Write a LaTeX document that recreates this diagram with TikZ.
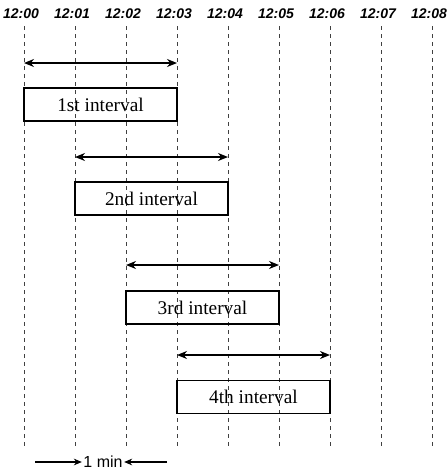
\documentclass[tikz,border=0pt]{standalone}
\usepackage{fontspec}
\setmainfont{Liberation Serif}
\setsansfont{Liberation Sans}
\usetikzlibrary{arrows.meta}
\tikzset{
    x={(0.75pt,0)},
    y={(0,-0.75pt)},
    tick/.style={font=\sffamily\bfseries\itshape\fontsize{10.5}{12}\selectfont,inner sep=0pt},
    grid/.style={dash pattern=on 3pt off 3pt,thin,black!75},
    span/.style={{Stealth[length=7.5pt,width=6pt]}-{Stealth[length=7.5pt,width=6pt]},line width=1.2pt},
    ibox/.style={draw,line width=1.2pt,minimum width=114.75pt,minimum height=24.5pt,
        inner sep=0pt,font=\fontsize{14.5}{16}\selectfont}
}
% one interval: arrow over the three minutes, box below it
\newcommand{\interval}[4] {
    \coordinate (s#1) at ({24+51*(#1-1)}, #2);
    \coordinate (e#1) at ({24+51*(#1+2)}, #2);
    \draw[span] (s#1) -- (e#1);
    \node[ibox] (box#1) at ({24+51*(#1+0.5)}, #3) {#4};
}
\begin{document}
\begin{tikzpicture}
    \useasboundingbox (0,0) rectangle (448,472);
    \foreach \t [count=\i from 0] in {00,01,02,03,04,05,06,07,08} {
        \node[tick] (t\i) at ({24+51*\i-3}, 14) {12:\t};
        \draw[grid] ({24+51*\i}, 26) -- ({24+51*\i}, 447);
    }
    \interval{1}{63}{104.5}{1st interval}
    \interval{2}{157}{198.5}{2nd interval}
    \interval{3}{265}{307.5}{3rd interval}
    \interval{4}{355}{397}{4th interval}
    % scale
    \node[font=\sffamily\fontsize{12}{14}\selectfont,inner sep=1pt] (unit) at (103,462) {1 min};
    \coordinate (ul) at (35,462);
    \coordinate (ur) at (167,462);
    \draw[-{Stealth[length=6pt,width=5pt]},line width=0.8pt] (ul) -- (unit.west);
    \draw[-{Stealth[length=6pt,width=5pt]},line width=0.8pt] (ur) -- (unit.east);
\end{tikzpicture}
\end{document}
